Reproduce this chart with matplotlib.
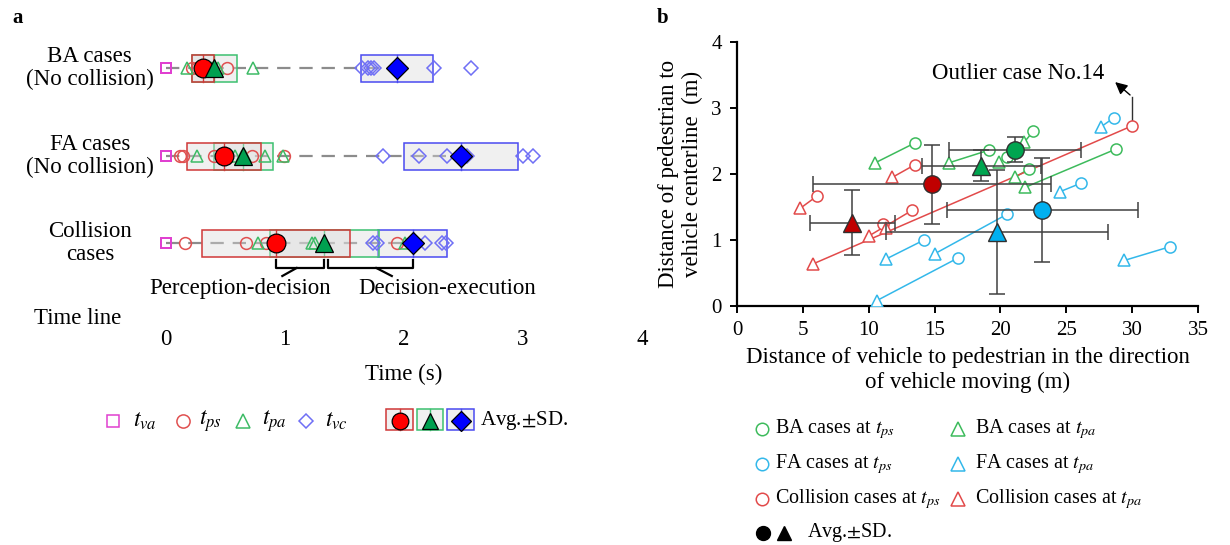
import matplotlib.pyplot as plt
import numpy as np
from matplotlib.patches import Rectangle

plt.rcParams["font.family"] = ["Liberation Serif", "DejaVu Serif"]
plt.rcParams["mathtext.fontset"] = "stix"

# ------------------------------------------------------------
# panel a : time line of the three case groups (s)
# ------------------------------------------------------------
GROUP_LABELS = ["BA cases\n(No collision)", "FA cases\n(No collision)", "Collision\ncases"]

BA_TVA = [0.0, 0.0, 0.0, 0.0, 0.0, 0.0]
BA_TPS = [0.22, 0.26, 0.30, 0.31, 0.35, 0.51]
BA_TPA = [0.18, 0.36, 0.39, 0.41, 0.44, 0.73]
BA_TVC = [1.65, 1.70, 1.72, 1.75, 2.25, 2.56]

FA_TVA = [0.0, 0.0, 0.0, 0.0, 0.0, 0.0]
FA_TPS = [0.12, 0.14, 0.40, 0.50, 0.72, 0.99]
FA_TPA = [0.26, 0.58, 0.64, 0.66, 0.83, 0.98]
FA_TVC = [1.82, 2.13, 2.36, 2.53, 3.00, 3.08]

COL_TVA = [0.0, 0.0, 0.0, 0.0, 0.0]
COL_TPS = [0.16, 0.67, 0.84, 0.92, 1.94]
COL_TPA = [0.77, 1.23, 1.25, 1.34, 2.01]
COL_TVC = [1.74, 1.77, 2.18, 2.32, 2.35]

# Avg. and SD shown by the boxes (BA, FA, Collision)
MEAN_TPS = [0.31, 0.49, 0.925]
SD_TPS = [0.094, 0.31, 0.625]
MEAN_TPA = [0.405, 0.65, 1.33]
SD_TPA = [0.19, 0.25, 0.46]
MEAN_TVC = [1.94, 2.48, 2.075]
SD_TVC = [0.30, 0.48, 0.29]

TIME_TICKS = [0, 1, 2, 3, 4]

# ------------------------------------------------------------
# panel b : pedestrian position at t_ps (circle) and t_pa (triangle), m
# ------------------------------------------------------------
BA_PS_X = [13.5, 19.1, 22.5, 20.5, 22.2, 28.8]
BA_PS_Y = [2.47, 2.36, 2.65, 2.26, 2.08, 2.38]
BA_PA_X = [10.5, 16.1, 21.8, 19.9, 21.1, 21.9]
BA_PA_Y = [2.17, 2.17, 2.48, 2.18, 1.95, 1.80]

FA_PS_X = [14.2, 16.8, 20.5, 26.1, 32.9, 28.6]
FA_PS_Y = [1.00, 0.73, 1.39, 1.86, 0.90, 2.85]
FA_PA_X = [11.3, 10.6, 15.0, 24.5, 29.4, 27.6]
FA_PA_Y = [0.71, 0.08, 0.79, 1.73, 0.69, 2.71]

COL_PS_X = [6.1, 13.5, 13.3, 11.1, 30.0]
COL_PS_Y = [1.67, 2.14, 1.45, 1.24, 2.73]
COL_PA_X = [4.8, 11.8, 10.0, 11.3, 5.8]
COL_PA_Y = [1.48, 1.95, 1.06, 1.18, 0.64]

OUTLIER_INDEX = 4  # collision case No.14

# colours
PINK = "#E040D0"
A_RED, A_GREEN, A_BLUE = "#E05050", "#3DBB66", "#6F6FF5"
A_RED_F, A_GREEN_F, A_BLUE_F = "#FF0000", "#00A050", "#0000FF"
B_GREEN, B_BLUE, B_RED = "#3DBB5C", "#33B8EA", "#E24A4A"
B_GREEN_F, B_BLUE_F, B_RED_F = "#00A550", "#00B0F0", "#C00000"
BOX_FACE = (0.86, 0.86, 0.86, 0.4)

FS = 16.5      # main texts
FS_TICK = 15
FS_LEG = 14.5
W, H = 1230, 545

fig = plt.figure(figsize=(W / 100, H / 100), dpi=100)


def px_axes(x0, y0, x1, y1):
    return fig.add_axes([x0 / W, 1 - y1 / H, (x1 - x0) / W, (y1 - y0) / H])


ax_a = px_axes(166, 30, 642, 318)
ax_b = px_axes(737, 42, 1198, 306)
ov = px_axes(0, 0, W, H)
ov.set_xlim(0, W)
ov.set_ylim(H, 0)
ov.axis("off")
ov.patch.set_alpha(0)

# ---------------- panel a ----------------
ROW_Y = [68, 156, 243]
BOX_H = 27
rows = [
    (BA_TVA, BA_TPS, BA_TPA, BA_TVC),
    (FA_TVA, FA_TPS, FA_TPA, FA_TVC),
    (COL_TVA, COL_TPS, COL_TPA, COL_TVC),
]

for i, (tva, tps, tpa, tvc) in enumerate(rows):
    y = ROW_Y[i]
    ax_a.plot([0, MEAN_TVC[i]], [y, y], color="#8C8C8C", lw=1.6,
              ls=(0, (6, 4)), zorder=1, clip_on=False)
    for mean, sd, col in [(MEAN_TVC[i], SD_TVC[i], "#4A4AF0"),
                          (MEAN_TPA[i], SD_TPA[i], "#3CC070"),
                          (MEAN_TPS[i], SD_TPS[i], "#D03838")]:
        ax_a.add_patch(Rectangle((mean - sd, y - BOX_H / 2), 2 * sd, BOX_H,
                                 facecolor=BOX_FACE, edgecolor=col, lw=1.1, zorder=2))
        ax_a.plot([mean, mean], [y - BOX_H / 2, y + BOX_H / 2], color=col, lw=1.0, zorder=2)
    ax_a.plot(tva, [y] * len(tva), "s", ms=7.5, mfc="none", mec=PINK, mew=1.1,
              zorder=3, clip_on=False)
    ax_a.plot(tps, [y] * len(tps), "o", ms=8.5, mfc="none", mec=A_RED, mew=1.1, zorder=3)
    ax_a.plot(tpa, [y] * len(tpa), "^", ms=9, mfc="none", mec=A_GREEN, mew=1.1, zorder=3)
    ax_a.plot(tvc, [y] * len(tvc), "D", ms=7.5, mfc="none", mec=A_BLUE, mew=1.1, zorder=3)
    ax_a.plot(MEAN_TPS[i], y, "o", ms=13.5, mfc=A_RED_F, mec="k", mew=0.9, zorder=5)
    ax_a.plot(MEAN_TPA[i], y, "^", ms=13.5, mfc=A_GREEN_F, mec="k", mew=0.9, zorder=6)
    ax_a.plot(MEAN_TVC[i], y, "D", ms=11, mfc=A_BLUE_F, mec="k", mew=0.9, zorder=5)
    ax_a.text(-0.64, y, GROUP_LABELS[i], ha="center", va="center", fontsize=FS,
              linespacing=1.15, clip_on=False)

# brackets under the collision row
yb = ROW_Y[2]
b0, b1 = MEAN_TPS[2], MEAN_TPA[2]
ax_a.plot([b0, b0, b1, b1], [yb + 17, yb + 25, yb + 25, yb + 17], color="k", lw=1.6, clip_on=False)
mid = (b0 + b1) / 2
ax_a.plot([mid - 0.03, mid - 0.15], [yb + 25, yb + 33], color="k", lw=1.6, clip_on=False)
c0, c1 = MEAN_TPA[2] + 0.03, MEAN_TVC[2]
ax_a.plot([c0, c0, c1, c1], [yb + 17, yb + 25, yb + 25, yb + 17], color="k", lw=1.6, clip_on=False)
mid = (c0 + c1) / 2
ax_a.plot([mid + 0.05, mid + 0.18], [yb + 25, yb + 33], color="k", lw=1.6, clip_on=False)
ax_a.text(0.62, yb + 45, "Perception-decision", ha="center", va="center", fontsize=FS)
ax_a.text(2.36, yb + 45, "Decision-execution", ha="center", va="center", fontsize=FS)

ax_a.set_xlim(0, 4)
ax_a.set_ylim(318, 30)
ax_a.set_xticks(TIME_TICKS)
ax_a.set_yticks([])
ax_a.tick_params(axis="x", length=0, pad=8, labelsize=FS)
for s in ax_a.spines.values():
    s.set_visible(False)
ax_a.patch.set_alpha(0)
ax_a.set_xlabel("Time (s)", fontsize=FS, labelpad=10)
ax_a.text(-0.74, 318, "Time line", ha="center", va="center", fontsize=FS, clip_on=False)

# legend a
ly = 421
ov.plot(113, ly, "s", ms=9, mfc="none", mec=PINK, mew=1.1)
ov.text(133, ly, r"$t_{va}$", fontsize=17, va="center")
ov.plot(183, ly, "o", ms=9.5, mfc="none", mec=A_RED, mew=1.1)
ov.text(199, ly, r"$t_{ps}$", fontsize=17, va="center")
ov.plot(243, ly, "^", ms=10, mfc="none", mec=A_GREEN, mew=1.1)
ov.text(262, ly, r"$t_{pa}$", fontsize=17, va="center")
ov.plot(306, ly, "D", ms=7.5, mfc="none", mec=A_BLUE, mew=1.1)
ov.text(325, ly, r"$t_{vc}$", fontsize=17, va="center")
for x0, x1, mk, fc, ec, ms in [(386, 413, "o", A_RED_F, "#D03838", 12),
                               (417, 443, "^", A_GREEN_F, "#3CC070", 12),
                               (447, 474, "D", A_BLUE_F, "#4A4AF0", 10)]:
    ov.add_patch(Rectangle((x0, 409), x1 - x0, 21, facecolor=BOX_FACE, edgecolor=ec, lw=1.1))
    xc = (x0 + x1) / 2
    ov.plot([xc, xc], [409, 430], color=ec, lw=1.0)
    ov.plot(xc, ly, mk, ms=ms, mfc=fc, mec="k", mew=0.9)
ov.text(480, ly, "Avg.$\\pm$SD.", fontsize=15, va="center")

# ---------------- panel b ----------------
groups_b = [
    (BA_PS_X, BA_PS_Y, BA_PA_X, BA_PA_Y, B_GREEN, B_GREEN_F),
    (FA_PS_X, FA_PS_Y, FA_PA_X, FA_PA_Y, B_BLUE, B_BLUE_F),
    (COL_PS_X, COL_PS_Y, COL_PA_X, COL_PA_Y, B_RED, B_RED_F),
]
for psx, psy, pax, pay, col, colf in groups_b:
    for k in range(len(psx)):
        ax_b.plot([psx[k], pax[k]], [psy[k], pay[k]], color=col, lw=1.1, zorder=2)
    ax_b.plot(psx, psy, "o", ms=8, mfc="white", mec=col, mew=1.1, zorder=3)
    ax_b.plot(pax, pay, "^", ms=9, mfc="white", mec=col, mew=1.1, zorder=3)

for psx, psy, pax, pay, col, colf in groups_b:
    for xs, ys, mk in [(psx, psy, "o"), (pax, pay, "^")]:
        ax_b.errorbar(np.mean(xs), np.mean(ys), xerr=np.std(xs, ddof=1),
                      yerr=np.std(ys, ddof=1), fmt="none", ecolor="#404040",
                      elinewidth=1.1, capsize=5.5, capthick=1.1, zorder=4)
        ax_b.plot(np.mean(xs), np.mean(ys), mk, ms=12.5, mfc=colf, mec="#303030",
                  mew=1.0, zorder=5)

# outlier annotation
ox, oy = COL_PS_X[OUTLIER_INDEX], COL_PS_Y[OUTLIER_INDEX]
ax_b.plot([ox, ox], [oy + 0.07, 3.17], color="#303030", lw=1.0, zorder=2)
ax_b.annotate("", xy=(ox - 1.45, 3.42), xytext=(ox, 3.17),
              arrowprops=dict(arrowstyle="-|>", color="k", lw=1.0, mutation_scale=18))
ax_b.text(14.8, 3.53, "Outlier case No.14", fontsize=FS, va="center", ha="left")

ax_b.set_xlim(0, 35)
ax_b.set_ylim(0, 4)
ax_b.set_xticks(range(0, 36, 5))
ax_b.set_yticks(range(0, 5))
for side in ["top", "right"]:
    ax_b.spines[side].set_visible(False)
for side in ["left", "bottom"]:
    ax_b.spines[side].set_linewidth(1.6)
ax_b.tick_params(direction="out", length=5, width=1.4, labelsize=FS_TICK, pad=6)
ax_b.set_xlabel("Distance of vehicle to pedestrian in the direction\nof vehicle moving (m)",
                fontsize=FS, labelpad=5, linespacing=1.2)
ax_b.set_ylabel("Distance of pedestrian to\nvehicle centerline  (m)",
                fontsize=FS, labelpad=6, linespacing=1.15)
ax_b.patch.set_alpha(0)

# legend b
rows_b = [429, 464, 499, 533]
leg_items = [
    (B_GREEN, "BA cases at $t_{ps}$", "BA cases at $t_{pa}$"),
    (B_BLUE, "FA cases at $t_{ps}$", "FA cases at $t_{pa}$"),
    (B_RED, "Collision cases at $t_{ps}$", "Collision cases at $t_{pa}$"),
]
for r, (col, t1, t2) in enumerate(leg_items):
    yy = rows_b[r]
    ov.plot(762, yy, "o", ms=9, mfc="none", mec=col, mew=1.1)
    ov.text(775, yy, t1, fontsize=FS_LEG, va="center")
    ov.plot(958, yy, "^", ms=10, mfc="none", mec=col, mew=1.1)
    ov.text(975, yy, t2, fontsize=FS_LEG, va="center")
ov.plot(763, rows_b[3], "o", ms=10, color="k")
ov.plot(784, rows_b[3], "^", ms=10, color="k")
ov.text(807, rows_b[3], "Avg.$\\pm$SD.", fontsize=FS_LEG, va="center")

# panel letters
ov.text(12, 18, "a", fontsize=15, fontweight="bold", va="center")
ov.text(657, 18, "b", fontsize=15, fontweight="bold", va="center")

fig.savefig("out.png", dpi=100, facecolor="white")
